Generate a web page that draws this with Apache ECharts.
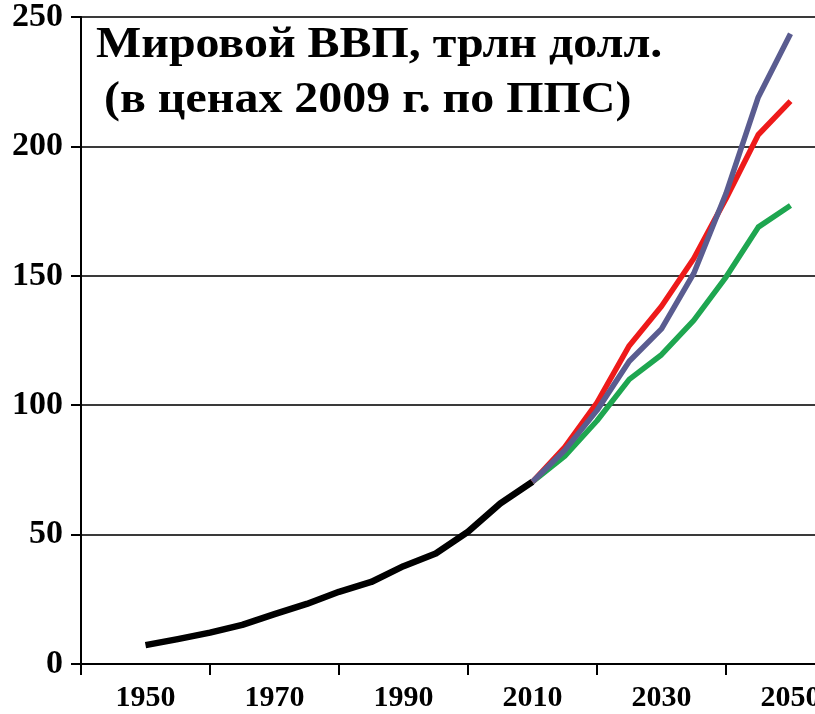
<!DOCTYPE html>
<html>
<head>
<meta charset="utf-8">
<script src="https://cdn.jsdelivr.net/npm/echarts@6/dist/echarts.min.js"></script>
<style>
  html, body { margin: 0; padding: 0; background: #fff; overflow: hidden; }
  /* the plot runs on to 2060, past the right edge of the window, as in the original */
  #chart { width: 855px; height: 714px; }
</style>
</head>
<body>
<div id="chart"></div>
<script>
"use strict";

const historyYears = [1950, 1955, 1960, 1965, 1970, 1975, 1980, 1985, 1990, 1995, 2000, 2005, 2010];
const historyGdp = [7.3, 9.6, 12.1, 15.1, 19.3, 23.2, 27.9, 31.7, 37.8, 42.7, 51.1, 62.0, 70.4];

const forecastYears = [2010, 2015, 2020, 2025, 2030, 2035, 2040, 2045, 2050];
const greenGdp = [70.4, 80.3, 94, 110, 119.5, 132.8, 149.5, 168.8, 177.2];
const redGdp = [70.4, 83.8, 101, 123, 138.2, 156.7, 179.8, 204.5, 217.5];
const blueGdp = [70.4, 82.6, 98, 117, 129.5, 150.9, 181.8, 219, 243.5];

const xLabelYears = [1950, 1970, 1990, 2010, 2030, 2050];
const titleLines = ["Мировой ВВП, трлн долл.", "(в ценах 2009 г. по ППС)"];

const colors = { black: "#000000", green: "#1ea650", red: "#ee1a1a", blue: "#5a5c90", grid: "#3a3a3a" };
const font = "'Liberation Serif', 'Times New Roman', serif";

const pairs = (xs, ys) => xs.map((x, i) => [x, ys[i]]);

const line = (name, data, color, width) => ({
  name, type: "line", data, showSymbol: false, symbol: "none", silent: true,
  lineStyle: { color, width, cap: "butt", join: "round" },
});

const titleText = (text, x, y) => ({
  type: "text", x, y, scaleX: 1.09, silent: true,
  style: { text, fontFamily: font, fontWeight: "bold", fontSize: 44, fill: "#000", verticalAlign: "middle", align: "left" },
});

const chart = echarts.init(document.getElementById("chart"), null, { renderer: "canvas" });

chart.setOption({
  animation: false,
  backgroundColor: "#ffffff",
  graphic: [titleText(titleLines[0], 96, 46), titleText(titleLines[1], 104, 101)],
  grid: { left: 81, right: 0, top: 16.5, bottom: 50, containLabel: false },
  xAxis: [
    {
      type: "value", min: 1940, max: 2060, interval: 20,
      axisLine: { show: true, onZero: false, lineStyle: { color: "#000", width: 2 } },
      axisTick: { show: true, length: 11, lineStyle: { color: "#000", width: 2 } },
      axisLabel: { show: false },
      splitLine: { show: false },
    },
    {
      type: "value", min: 1940, max: 2060, interval: 10, position: "bottom",
      axisLine: { show: false }, axisTick: { show: false }, splitLine: { show: false },
      axisLabel: {
        margin: 19, fontFamily: font, fontWeight: "bold", fontSize: 30, color: "#000",
        showMinLabel: false, showMaxLabel: false,
        formatter: (v) => (xLabelYears.includes(v) ? String(v) : ""),
      },
    },
  ],
  yAxis: {
    type: "value", min: 0, max: 250, interval: 50,
    axisLine: { show: true, lineStyle: { color: "#000", width: 2 } },
    axisTick: { show: true, length: 10, lineStyle: { color: "#000", width: 2 } },
    axisLabel: { margin: 18, fontFamily: font, fontWeight: "bold", fontSize: 34, color: "#000", padding: [7, 0, 0, 0] },
    splitLine: { show: true, lineStyle: { color: colors.grid, width: 2 } },
  },
  series: [
    line("history", pairs(historyYears, historyGdp), colors.black, 6.5),
    line("green", pairs(forecastYears, greenGdp), colors.green, 5.5),
    line("red", pairs(forecastYears, redGdp), colors.red, 5.5),
    line("blue", pairs(forecastYears, blueGdp), colors.blue, 5.5),
  ],
});
</script>
</body>
</html>
